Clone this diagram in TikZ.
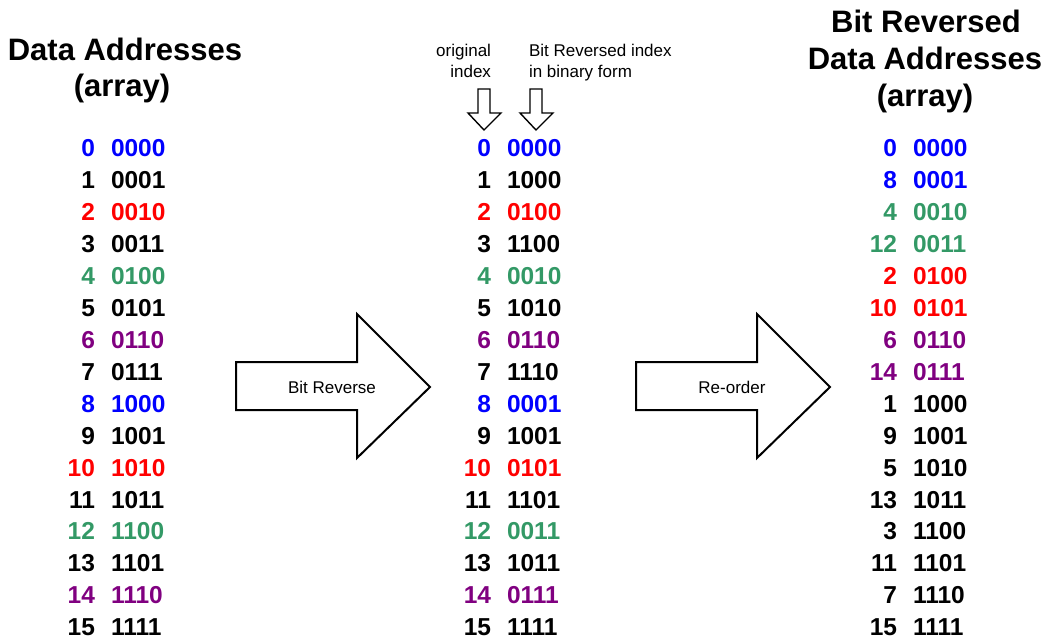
\documentclass[tikz,border=0pt]{standalone}
\usepackage{fontspec}
\setmainfont{Liberation Sans}
\definecolor{cblue}{RGB}{0,0,255}
\definecolor{cred}{RGB}{255,0,0}
\definecolor{cgreen}{RGB}{51,153,102}
\definecolor{cpurple}{RGB}{128,0,128}
\definecolor{cblack}{RGB}{0,0,0}
\begin{document}
\begin{tikzpicture}[x=1pt,y=-1pt,
  every node/.style={inner sep=0pt,outer sep=0pt},
  title/.style={font=\fontsize{31}{36}\selectfont\bfseries,anchor=base},
  num/.style={font=\fontsize{24.5}{29}\selectfont\bfseries,anchor=base east},
  bin/.style={font=\fontsize{24.5}{29}\selectfont\bfseries,anchor=base west},
  note/.style={font=\fontsize{17}{21}\selectfont},
  bigarrow/.style={draw=black,line width=2pt,fill=white,line join=miter},
  downarrow/.style={draw=black,line width=1.4pt,fill=white,line join=miter}]
\useasboundingbox (0,0) rectangle (1047,639);

% headings
\node[title] (lt1) at (125,61) {Data Addresses};
\node[title] (lt2) at (122,97) {(array)};
\node[title] (rt1) at (926,33) {Bit Reversed};
\node[title] (rt2) at (925,70) {Data Addresses};
\node[title] (rt3) at (925,107) {(array)};

% column notes
\node[note,anchor=base east] (o1) at (491,57) {original};
\node[note,anchor=base east] (o2) at (491,78) {index};
\node[note,anchor=base west] (b1) at (529,57) {Bit Reversed index};
\node[note,anchor=base west] (b2) at (529,78) {in binary form};

% hollow pointer arrows
\draw[downarrow] (478,89) -- (490,89) -- (490,113) -- (501,113) -- (484,130)
  -- (468,113) -- (478,113) -- cycle;
\draw[downarrow] (530,89) -- (542,89) -- (542,113) -- (553,113) -- (536,130)
  -- (520,113) -- (530,113) -- cycle;

% block arrows
\draw[bigarrow] (236,362) -- (357,362) -- (357,314) -- (430,387) -- (357,458)
  -- (357,410) -- (236,410) -- cycle;
\node[note,anchor=base] (br) at (332,393) {Bit Reverse};
\draw[bigarrow] (636,362) -- (757,362) -- (757,314) -- (830,387) -- (757,458)
  -- (757,410) -- (636,410) -- cycle;
\node[note,anchor=base] (ro) at (732,393) {Re-order};

% data addresses
\foreach \n/\b/\c [count=\i from 0] in {
  0/0000/cblue,1/0001/cblack,2/0010/cred,3/0011/cblack,
  4/0100/cgreen,5/0101/cblack,6/0110/cpurple,7/0111/cblack,
  8/1000/cblue,9/1001/cblack,10/1010/cred,11/1011/cblack,
  12/1100/cgreen,13/1101/cblack,14/1110/cpurple,15/1111/cblack}{
  \node[num,text=\c] (ln\i) at (95,156.8+31.93*\i) {\n};
  \node[bin,text=\c] (lb\i) at (111,156.8+31.93*\i) {\b};
}

% index with bit reversed binary
\foreach \n/\b/\c [count=\i from 0] in {
  0/0000/cblue,1/1000/cblack,2/0100/cred,3/1100/cblack,
  4/0010/cgreen,5/1010/cblack,6/0110/cpurple,7/1110/cblack,
  8/0001/cblue,9/1001/cblack,10/0101/cred,11/1101/cblack,
  12/0011/cgreen,13/1011/cblack,14/0111/cpurple,15/1111/cblack}{
  \node[num,text=\c] (mn\i) at (491,156.8+31.93*\i) {\n};
  \node[bin,text=\c] (mb\i) at (507,156.8+31.93*\i) {\b};
}

% bit reversed data addresses
\foreach \n/\b/\c [count=\i from 0] in {
  0/0000/cblue,8/0001/cblue,4/0010/cgreen,12/0011/cgreen,
  2/0100/cred,10/0101/cred,6/0110/cpurple,14/0111/cpurple,
  1/1000/cblack,9/1001/cblack,5/1010/cblack,13/1011/cblack,
  3/1100/cblack,11/1101/cblack,7/1110/cblack,15/1111/cblack}{
  \node[num,text=\c] (rn\i) at (897,156.8+31.93*\i) {\n};
  \node[bin,text=\c] (rb\i) at (913,156.8+31.93*\i) {\b};
}
\end{tikzpicture}
\end{document}
